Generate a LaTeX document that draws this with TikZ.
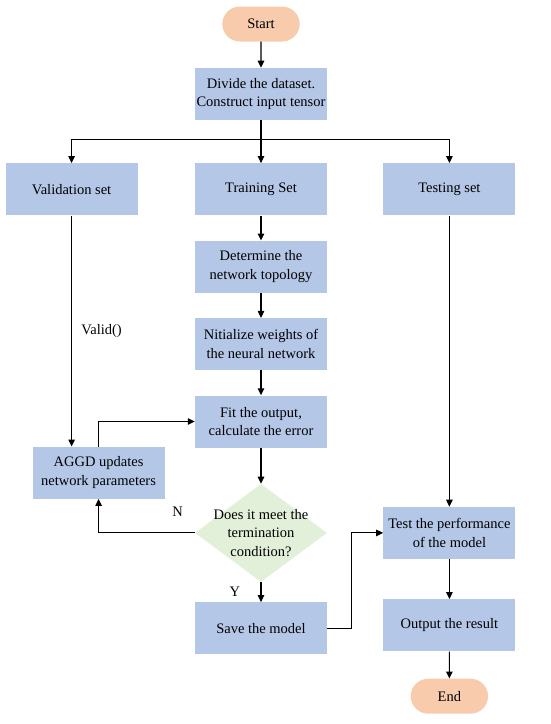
\documentclass[tikz,border=0pt]{standalone}
\usepackage{fontspec}
\setmainfont{Liberation Serif}
\usetikzlibrary{positioning,arrows.meta,shapes.geometric,shapes.misc,calc}
\definecolor{boxblue}{HTML}{B4C7E7}
\definecolor{pillorange}{HTML}{F8CBAD}
\definecolor{diagreen}{HTML}{E2EFD9}

\begin{document}
\begin{tikzpicture}[>={Triangle[length=7pt,width=6.5pt]},node distance=25pt and 56pt,
  font=\fontsize{14.5}{18.5}\selectfont,
  stepbox/.style={fill=boxblue,minimum width=132pt,minimum height=52pt,align=center,inner sep=2pt},
  pill/.style={rounded rectangle,fill=pillorange,minimum width=84pt,minimum height=35pt},
  query/.style={diamond,fill=diagreen,minimum width=132pt,minimum height=98pt,aspect=1.347,inner sep=-8pt,align=center},
  arr/.style={->,line width=1.1pt}]
\useasboundingbox (0,0) rectangle (550pt,-724pt);
\node (start) [pill] at (261pt,-24pt) {Start};
\node (div) [stepbox,below=26pt of start] {Divide the dataset.\\Construct input tensor};
\node (train) [stepbox,below=43pt of div] {Training Set};
\node (val) [stepbox,left=57pt of train] {Validation set};
\node (tst) [stepbox,right=of train] {Testing set};
\node (det) [stepbox,below=of train] {Determine the\\network topology};
\node (init) [stepbox,below=of det] {Nitialize weights of\\the neural network};
\node (fit) [stepbox,below=of init] {Fit the output,\\calculate the error};
\node (dia) [query,below=36pt of fit] {Does it meet the\\termination\\condition?};
\node (save) [stepbox,below=20pt of dia] {Save the model};
\node (aggd) [stepbox,below=231pt of val,xshift=27pt] {AGGD updates\\network parameters};
\node (perf) [stepbox] at (dia -| tst) {Test the performance\\of the model};
\node (out) [stepbox,below=40pt of perf] {Output the result};
\node (end) [pill,below=27pt of out] {End};
\coordinate (bus) at ($(div.south)+(0,-19pt)$);
\coordinate (mid) at ($(save.east)!0.43!(perf.west)$);
\draw[arr] (start) -- (div);
\draw[arr] (div) -- (train);
\draw[arr] (bus) -| (val);
\draw[arr] (bus) -| (tst);
\draw[arr] (train) -- (det);
\draw[arr] (det) -- (init);
\draw[arr] (init) -- (fit);
\draw[arr] (fit) -- (dia);
\draw[arr] (val) -- (val |- aggd.north) node[midway,right=6pt]{Valid()};
\draw[arr] (aggd.north) |- (fit.west);
\draw[arr] (dia.west) -| (aggd.south) node[pos=0.09,above=13pt]{N};
\draw[arr] (dia) -- (save) node[midway,left=17pt]{Y};
\draw[arr] (save.east) -| (mid) |- (perf.west);
\draw[arr] (tst) -- (perf);
\draw[arr] (perf) -- (out);
\draw[arr] (out) -- (end);
\end{tikzpicture}
\end{document}
